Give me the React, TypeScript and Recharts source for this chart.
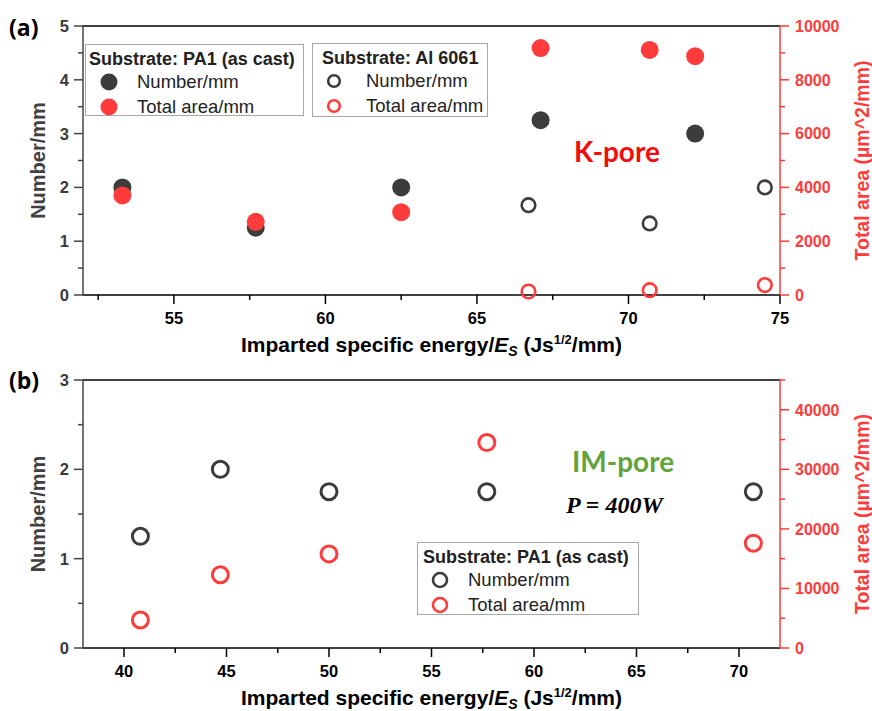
import React from 'react';
import { ScatterChart, Scatter, XAxis, YAxis, ReferenceLine } from 'recharts';

// ---------- data ----------
// (a) K-pore, substrate PA1 (as cast), filled markers
const TOP_PA1_NUMBER_X = [53.3, 57.7, 62.5, 67.1, 72.2];
const TOP_PA1_NUMBER = [2.0, 1.25, 2.0, 3.25, 3.0];
const TOP_PA1_AREA_X = [53.3, 57.7, 62.5, 67.1, 70.7, 72.2];
const TOP_PA1_AREA = [3700, 2720, 3080, 9180, 9110, 8880];
// (a) K-pore, substrate Al 6061, open markers
const TOP_AL_X = [66.7, 70.7, 74.5];
const TOP_AL_NUMBER = [1.67, 1.33, 2.0];
const TOP_AL_AREA = [130, 180, 370];
// (b) IM-pore, substrate PA1 (as cast), open markers
const BOT_X = [40.8, 44.7, 50.0, 57.7, 70.7];
const BOT_NUMBER = [1.25, 2.0, 1.75, 1.75, 1.75];
const BOT_AREA = [4700, 12300, 15800, 34500, 17600];

// tick values
const TOP_X_TICKS = [52.5, 55, 57.5, 60, 62.5, 65, 67.5, 70, 72.5, 75];
const TOP_X_MAJOR = [55, 60, 65, 70, 75];
const TOP_YL_TICKS = [0, 0.5, 1, 1.5, 2, 2.5, 3, 3.5, 4, 4.5, 5];
const TOP_YL_MAJOR = [0, 1, 2, 3, 4, 5];
const TOP_YR_TICKS = [0, 1000, 2000, 3000, 4000, 5000, 6000, 7000, 8000, 9000, 10000];
const TOP_YR_MAJOR = [0, 2000, 4000, 6000, 8000, 10000];
const BOT_X_TICKS = [40, 42.5, 45, 47.5, 50, 52.5, 55, 57.5, 60, 62.5, 65, 67.5, 70];
const BOT_X_MAJOR = [40, 45, 50, 55, 60, 65, 70];
const BOT_YL_TICKS = [0, 0.5, 1, 1.5, 2, 2.5, 3];
const BOT_YL_MAJOR = [0, 1, 2, 3];
const BOT_YR_TICKS = [0, 5000, 10000, 15000, 20000, 25000, 30000, 35000, 40000, 45000];
const BOT_YR_MAJOR = [0, 10000, 20000, 30000, 40000];

const zipN = (xs: number[], ys: number[]) => xs.map((x, i) => ({ x, n: ys[i] }));
const zipA = (xs: number[], ys: number[]) => xs.map((x, i) => ({ x, a: ys[i] }));

const DARK = '#3c3c3c';
const RED = '#ff3b3b';
const FONT = "'Liberation Sans', Arial, sans-serif";

type Side = 'bottom' | 'left' | 'right';
const makeTick = (majors: number[], side: Side, lineColor: string, textColor: string, fontSize: number) =>
  (props: any) => {
    const { x, y, payload } = props;
    const v = payload.value;
    const major = majors.includes(v);
    const len = major ? 9 : 5;
    if (side === 'bottom') {
      return (
        <g>
          <line x1={x} y1={y} x2={x} y2={y + len} stroke={lineColor} strokeWidth={1.5} />
          {major && (
            <text x={x} y={y + 29} textAnchor="middle" fontFamily={FONT} fontWeight="bold" fontSize={fontSize} fill={textColor}>
              {String(v)}
            </text>
          )}
        </g>
      );
    }
    if (side === 'left') {
      return (
        <g>
          <line x1={x} y1={y} x2={x - len} y2={y} stroke={lineColor} strokeWidth={1.5} />
          {major && (
            <text x={x - 14} y={y} dy="0.36em" textAnchor="end" fontFamily={FONT} fontWeight="bold" fontSize={fontSize} fill={textColor}>
              {String(v)}
            </text>
          )}
        </g>
      );
    }
    return (
      <g>
        <line x1={x} y1={y} x2={x + len} y2={y} stroke={lineColor} strokeWidth={1.5} />
        {major && (
          <text x={x + 15} y={y} dy="0.36em" textAnchor="start" fontFamily={FONT} fontWeight="bold" fontSize={fontSize} fill={textColor}>
            {String(v)}
          </text>
        )}
      </g>
    );
  };

const XTitle = (props: any) => {
  const vb = props.viewBox || { x: 83, y: 295, width: 697, height: 55 };
  const cx = vb.x + vb.width / 2;
  return (
    <text x={cx} y={vb.y + 57} textAnchor="middle" fontFamily={FONT} fontWeight="bold" fontSize={21} fill="#000">
      Imparted specific energy/
      <tspan fontStyle="italic">E</tspan>
      <tspan fontStyle="italic" fontSize={14} dy={4}>S</tspan>
      <tspan dy={-4}> (Js</tspan>
      <tspan fontSize={13} dy={-8}>1/2</tspan>
      <tspan dy={8}>/mm)</tspan>
    </text>
  );
};

const LeftTitle = (props: any) => {
  const vb = props.viewBox || { x: 20, y: 26, width: 63, height: 269 };
  const cx = vb.x + 18;
  const cy = vb.y + vb.height / 2;
  return (
    <text x={cx} y={cy} transform={`rotate(-90, ${cx}, ${cy})`} textAnchor="middle" dominantBaseline="central"
      fontFamily={FONT} fontWeight="bold" fontSize={20} fill="#404040">
      Number/mm
    </text>
  );
};

const RightTitle = (props: any) => {
  const vb = props.viewBox || { x: 780, y: 26, width: 70, height: 269 };
  const cx = vb.x + 82;
  const cy = vb.y + vb.height / 2;
  return (
    <text x={cx} y={cy} transform={`rotate(-90, ${cx}, ${cy})`} textAnchor="middle" dominantBaseline="central"
      fontFamily={FONT} fontWeight="bold" fontSize={19.5} fill={RED}>
      Total area (µm^2/mm)
    </text>
  );
};

const filledDot = (color: string, r: number) => (p: any) => <circle cx={p.cx} cy={p.cy} r={r} fill={color} />;
const openDot = (color: string, r: number, sw: number) => (p: any) =>
  <circle cx={p.cx} cy={p.cy} r={r} fill="none" stroke={color} strokeWidth={sw} />;

const LegendBox = ({ left, top, width, height, title, titleLeft, markerX, textX, filled, openR = 5.8 }: any) => (
  <div style={{ position: 'absolute', left, top, width, height, border: '1px solid #a8a8a8', background: '#fff', boxSizing: 'border-box', fontFamily: FONT, color: '#222' }}>
    <div style={{ position: 'absolute', left: titleLeft, top: 14, transform: 'translateY(-50%)', fontWeight: 'bold', fontSize: 18, whiteSpace: 'nowrap', lineHeight: 1 }}>{title}</div>
    {[0, 1].map((i) => (
      <React.Fragment key={i}>
        <svg style={{ position: 'absolute', left: markerX - 10, top: 37 + i * 25 - 10 }} width={20} height={20}>
          {filled ? (
            <circle cx={10} cy={10} r={8.5} fill={i === 0 ? DARK : RED} />
          ) : (
            <circle cx={10} cy={10} r={openR} fill="none" stroke={i === 0 ? DARK : RED} strokeWidth={2.6} />
          )}
        </svg>
        <div style={{ position: 'absolute', left: textX, top: 37 + i * 25, transform: 'translateY(-50%)', fontSize: 18.5, whiteSpace: 'nowrap', lineHeight: 1 }}>
          {i === 0 ? 'Number/mm' : 'Total area/mm'}
        </div>
      </React.Fragment>
    ))}
  </div>
);

export default function App() {
  return (
    <div style={{ position: 'absolute', left: 0, top: 0, width: 872, height: 711, background: '#fff', overflow: 'hidden' }}>
      <div style={{ position: 'absolute', left: 0, top: 0 }}>
        <ScatterChart width={872} height={360} margin={{ top: 26, right: 22, bottom: 10, left: 20 }}>
          <XAxis dataKey="x" type="number" domain={[52, 75]} ticks={TOP_X_TICKS} interval={0}
            tickSize={0} tickMargin={0} tickLine={false} axisLine={{ stroke: '#000', strokeWidth: 1.5 }}
            tick={makeTick(TOP_X_MAJOR, 'bottom', '#000', '#000', 16.5)} height={55} label={XTitle} />
          <YAxis yAxisId="left" dataKey="n" type="number" domain={[0, 5]} ticks={TOP_YL_TICKS} interval={0}
            tickSize={0} tickMargin={0} tickLine={false} axisLine={{ stroke: '#444', strokeWidth: 1.5 }}
            tick={makeTick(TOP_YL_MAJOR, 'left', '#444', '#3a3a3a', 16.5)} width={63} label={LeftTitle} />
          <YAxis yAxisId="right" orientation="right" dataKey="a" type="number" domain={[0, 10000]} ticks={TOP_YR_TICKS} interval={0}
            tickSize={0} tickMargin={0} tickLine={false} axisLine={{ stroke: RED, strokeWidth: 1.5 }}
            tick={makeTick(TOP_YR_MAJOR, 'right', RED, RED, 16)} width={70} label={RightTitle} />
          <ReferenceLine yAxisId="left" y={5} stroke="#000" strokeWidth={1.5} />
          <Scatter yAxisId="left" data={zipN(TOP_PA1_NUMBER_X, TOP_PA1_NUMBER)} shape={filledDot(DARK, 9)} isAnimationActive={false} />
          <Scatter yAxisId="right" data={zipA(TOP_PA1_AREA_X, TOP_PA1_AREA)} shape={filledDot(RED, 9)} isAnimationActive={false} />
          <Scatter yAxisId="left" data={zipN(TOP_AL_X, TOP_AL_NUMBER)} shape={openDot(DARK, 6.8, 2.6)} isAnimationActive={false} />
          <Scatter yAxisId="right" data={zipA(TOP_AL_X, TOP_AL_AREA)} shape={openDot(RED, 6.8, 2.6)} isAnimationActive={false} />
        </ScatterChart>
      </div>
      <div style={{ position: 'absolute', left: 0, top: 360 }}>
        <ScatterChart width={872} height={351} margin={{ top: 20, right: 22, bottom: 8, left: 20 }}>
          <XAxis dataKey="x" type="number" domain={[38, 72]} ticks={BOT_X_TICKS} interval={0}
            tickSize={0} tickMargin={0} tickLine={false} axisLine={{ stroke: '#000', strokeWidth: 1.5 }}
            tick={makeTick(BOT_X_MAJOR, 'bottom', '#000', '#000', 16.5)} height={55} label={XTitle} />
          <YAxis yAxisId="left" dataKey="n" type="number" domain={[0, 3]} ticks={BOT_YL_TICKS} interval={0}
            tickSize={0} tickMargin={0} tickLine={false} axisLine={{ stroke: '#444', strokeWidth: 1.5 }}
            tick={makeTick(BOT_YL_MAJOR, 'left', '#444', '#3a3a3a', 16.5)} width={63} label={LeftTitle} />
          <YAxis yAxisId="right" orientation="right" dataKey="a" type="number" domain={[0, 45000]} ticks={BOT_YR_TICKS} interval={0}
            tickSize={0} tickMargin={0} tickLine={false} axisLine={{ stroke: RED, strokeWidth: 1.5 }}
            tick={makeTick(BOT_YR_MAJOR, 'right', RED, RED, 16)} width={70} label={RightTitle} />
          <ReferenceLine yAxisId="left" y={3} stroke="#000" strokeWidth={1.5} />
          <Scatter yAxisId="left" data={zipN(BOT_X, BOT_NUMBER)} shape={openDot(DARK, 8, 3)} isAnimationActive={false} />
          <Scatter yAxisId="right" data={zipA(BOT_X, BOT_AREA)} shape={openDot(RED, 8, 3)} isAnimationActive={false} />
        </ScatterChart>
      </div>

      {/* panel letters and annotations */}
      <div style={{ position: 'absolute', left: 9, top: 27, transform: 'translateY(-50%)', fontFamily: "'Open Sans', sans-serif", fontWeight: 'bold', fontSize: 23, lineHeight: 1, color: '#000' }}>(a)</div>
      <div style={{ position: 'absolute', left: 9, top: 380, transform: 'translateY(-50%)', fontFamily: "'Open Sans', sans-serif", fontWeight: 'bold', fontSize: 23, lineHeight: 1, color: '#000' }}>(b)</div>
      <div style={{ position: 'absolute', left: 574, top: 151, transform: 'translateY(-50%)', fontFamily: "'Lato', sans-serif", fontWeight: 'bold', fontSize: 28, lineHeight: 1, color: '#f20d0d' }}>K-pore</div>
      <div style={{ position: 'absolute', left: 572, top: 461, transform: 'translateY(-50%)', fontFamily: "'Lato', sans-serif", fontWeight: 'bold', fontSize: 28, lineHeight: 1, color: '#62a43c' }}>IM-pore</div>
      <div style={{ position: 'absolute', left: 566, top: 505, transform: 'translateY(-50%)', fontFamily: "'Liberation Serif', 'DejaVu Serif', serif", fontStyle: 'italic', fontWeight: 'bold', fontSize: 24, lineHeight: 1, color: '#000', whiteSpace: 'nowrap' }}>
        P <span style={{ fontStyle: 'normal' }}>=</span> 400W
      </div>

      <LegendBox left={85} top={44} width={219} height={72} title="Substrate: PA1 (as cast)" titleLeft={3} markerX={23} textX={51} filled />
      <LegendBox left={312} top={43} width={176} height={74} title="Substrate: Al 6061" titleLeft={9} markerX={21} textX={53} filled={false} />
      <LegendBox left={417} top={542} width={222} height={73} title="Substrate: PA1 (as cast)" titleLeft={5} markerX={22} textX={50} filled={false} openR={7} />
    </div>
  );
}
